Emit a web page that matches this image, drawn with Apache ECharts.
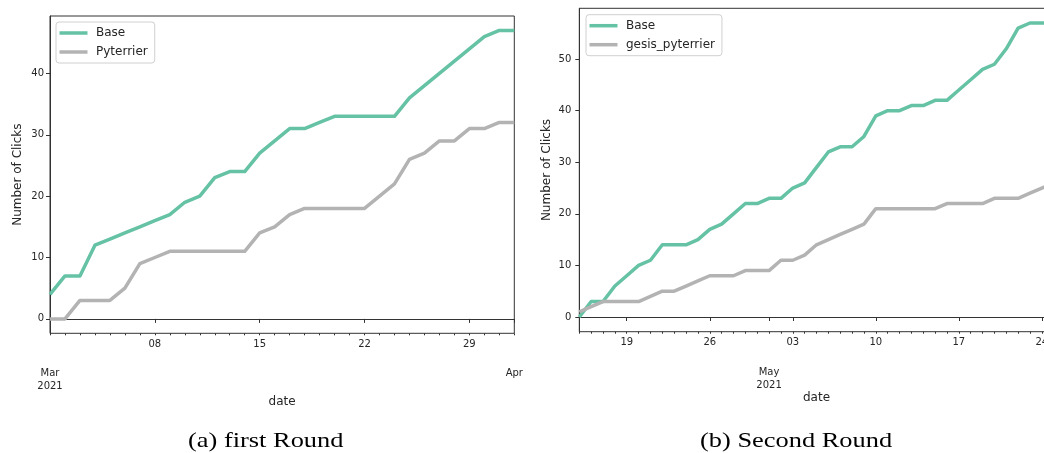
<!DOCTYPE html>
<html>
<head>
<meta charset="utf-8">
<title>Number of Clicks per Round</title>
<script src="https://cdn.jsdelivr.net/npm/echarts@6/dist/echarts.min.js"></script>
<style>
  html, body { margin: 0; padding: 0; background: #fff; }
  #chart { width: 1044px; height: 453px; }
</style>
</head>
<body>
<div id="chart"></div>
<script>
// ---- first round: daily cumulative clicks, 2021-03-01 .. 2021-04-01 ----
const round1Dates = [
  '2021-03-01','2021-03-02','2021-03-03','2021-03-04','2021-03-05','2021-03-06','2021-03-07',
  '2021-03-08','2021-03-09','2021-03-10','2021-03-11','2021-03-12','2021-03-13','2021-03-14',
  '2021-03-15','2021-03-16','2021-03-17','2021-03-18','2021-03-19','2021-03-20','2021-03-21',
  '2021-03-22','2021-03-23','2021-03-24','2021-03-25','2021-03-26','2021-03-27','2021-03-28',
  '2021-03-29','2021-03-30','2021-03-31','2021-04-01'
];
const round1Base = [4,7,7,12,13,14,15,16,17,19,20,23,24,24,27,29,31,31,32,33,33,33,33,33,36,38,40,42,44,46,47,47];
const round1Pyterrier = [0,0,3,3,3,5,9,10,11,11,11,11,11,11,14,15,17,18,18,18,18,18,20,22,26,27,29,29,31,31,32,32];

// ---- second round: daily cumulative clicks, 2021-04-15 .. 2021-05-25 ----
const round2Dates = [
  '2021-04-15','2021-04-16','2021-04-17','2021-04-18','2021-04-19','2021-04-20','2021-04-21',
  '2021-04-22','2021-04-23','2021-04-24','2021-04-25','2021-04-26','2021-04-27','2021-04-28',
  '2021-04-29','2021-04-30','2021-05-01','2021-05-02','2021-05-03','2021-05-04','2021-05-05',
  '2021-05-06','2021-05-07','2021-05-08','2021-05-09','2021-05-10','2021-05-11','2021-05-12',
  '2021-05-13','2021-05-14','2021-05-15','2021-05-16','2021-05-17','2021-05-18','2021-05-19',
  '2021-05-20','2021-05-21','2021-05-22','2021-05-23','2021-05-24','2021-05-25'
];
const round2Base = [0,3,3,6,8,10,11,14,14,14,15,17,18,20,22,22,23,23,25,26,29,32,33,33,35,39,40,40,41,41,42,42,44,46,48,49,52,56,57,57,57];
const round2Gesis = [1,2,3,3,3,3,4,5,5,6,7,8,8,8,9,9,9,11,11,12,14,15,16,17,18,21,21,21,21,21,21,22,22,22,22,23,23,23,24,25,26];

// tick labels
const round1YTicks = [0, 10, 20, 30, 40];
const round2YTicks = [0, 10, 20, 30, 40, 50];
const monthLabels = { '2021-03-01': 'Mar\n2021', '2021-04-01': 'Apr', '2021-05-01': 'May\n2021' };
const captions = ['(a) first Round', '(b) Second Round'];

const FONT = 'DejaVu Sans';
const INK = '#262626';
const SPINE = '#333333';
const GREEN = '#66c2a5';
const GREY = '#b3b3b3';

function dayOf(s) { return new Date(s + 'T00:00:00Z'); }
function isMonday(s) { return dayOf(s).getUTCDay() === 1; }
function isMonthStart(s) { return dayOf(s).getUTCDate() === 1; }

// three stacked x axes per panel: day labels + major ticks, daily minor ticks, month labels
function xAxesFor(gridIndex, dates, nameGap) {
  return [
    {
      type: 'category', gridIndex, data: dates, boundaryGap: false, position: 'bottom',
      name: 'date', nameLocation: 'middle', nameGap,
      nameTextStyle: { fontFamily: FONT, fontSize: 12, color: INK },
      axisLine: { show: true, lineStyle: { color: SPINE, width: 1 } },
      axisTick: {
        show: true, length: 4, lineStyle: { color: SPINE },
        interval: (i, v) => isMonday(v) || isMonthStart(v)
      },
      axisLabel: {
        show: true, margin: 5, fontFamily: FONT, fontSize: 10, color: INK, lineHeight: 12,
        interval: (i, v) => isMonday(v) && !isMonthStart(v),
        formatter: v => v.slice(8, 10)
      },
      splitLine: { show: false }
    },
    {
      type: 'category', gridIndex, data: dates, boundaryGap: false, position: 'bottom', offset: 0,
      axisLine: { show: false },
      axisTick: { show: true, length: 2, interval: 0, lineStyle: { color: SPINE } },
      axisLabel: { show: false },
      splitLine: { show: false }
    },
    {
      type: 'category', gridIndex, data: dates, boundaryGap: false, position: 'bottom', offset: 0,
      axisLine: { show: false },
      axisTick: { show: false },
      axisLabel: {
        show: true, margin: 34, fontFamily: FONT, fontSize: 10, color: INK, lineHeight: 13,
        hideOverlap: false, showMinLabel: true, showMaxLabel: true,
        interval: (i, v) => isMonthStart(v),
        formatter: v => monthLabels[v] || ''
      },
      splitLine: { show: false }
    }
  ];
}

function yAxisFor(gridIndex, min, max, ticks, margin, nameGap) {
  return {
    type: 'value', gridIndex, min, max,
    name: 'Number of Clicks', nameLocation: 'middle', nameGap,
    nameTextStyle: { fontFamily: FONT, fontSize: 12, color: INK },
    axisLine: { show: true, lineStyle: { color: SPINE, width: 1 } },
    axisTick: { show: true, length: 4, customValues: ticks, lineStyle: { color: SPINE } },
    axisLabel: { show: true, margin, customValues: ticks, fontFamily: FONT, fontSize: 10, color: INK },
    splitLine: { show: false }
  };
}

function lineSeries(name, data, color, xAxisIndex, yAxisIndex) {
  return {
    type: 'line', name, data, xAxisIndex, yAxisIndex,
    showSymbol: false, symbol: 'none', smooth: false, animation: false,
    lineStyle: { color, width: 3.5, join: 'round', cap: 'butt' },
    itemStyle: { color },
    z: 3
  };
}

function legendFor(names, left, top) {
  return {
    data: names, orient: 'vertical', left, top,
    icon: 'rect', itemWidth: 28, itemHeight: 3.5, itemGap: 5,
    padding: [4, 7, 4, 3.5],
    backgroundColor: '#ffffff', borderColor: '#d0d0d0', borderWidth: 1, borderRadius: 3,
    textStyle: { fontFamily: FONT, fontSize: 12, color: INK, lineHeight: 14, padding: [0, 0, 0, 3.5] },
    selectedMode: false
  };
}

const chart = echarts.init(document.getElementById('chart'), null, { renderer: 'canvas' });

chart.setOption({
  backgroundColor: '#ffffff',
  animation: false,
  grid: [
    { left: 50, top: 16, width: 464.3, height: 317.3, show: true, borderColor: SPINE, borderWidth: 1,
      containLabel: false, outerBoundsMode: 'none' },
    { left: 579.3, top: 8.3, width: 474.4, height: 323.4, show: true, borderColor: SPINE, borderWidth: 1,
      containLabel: false, outerBoundsMode: 'none' }
  ],
  xAxis: [
    ...xAxesFor(0, round1Dates, 63),
    ...xAxesFor(1, round2Dates, 60)
  ],
  yAxis: [
    yAxisFor(0, -2.35, 49.35, round1YTicks, 6, 26),
    yAxisFor(1, -2.85, 59.85, round2YTicks, 8, 26)
  ],
  legend: [
    legendFor(['Base', 'Pyterrier'], 56, 22),
    legendFor(['Base', 'gesis_pyterrier'], 586, 14.7)
  ],
  series: [
    lineSeries('Base', round1Base, GREEN, 0, 0),
    lineSeries('Pyterrier', round1Pyterrier, GREY, 0, 0),
    lineSeries('Base', round2Base, GREEN, 3, 1),
    lineSeries('gesis_pyterrier', round2Gesis, GREY, 3, 1)
  ],
  graphic: [
    {
      type: 'text', left: 188, top: 430, scaleX: 1.2,
      style: { text: captions[0], font: '22px "Liberation Serif"', fill: '#000' }
    },
    {
      type: 'text', left: 700, top: 430, scaleX: 1.2,
      style: { text: captions[1], font: '22px "Liberation Serif"', fill: '#000' }
    }
  ]
});
</script>
</body>
</html>
